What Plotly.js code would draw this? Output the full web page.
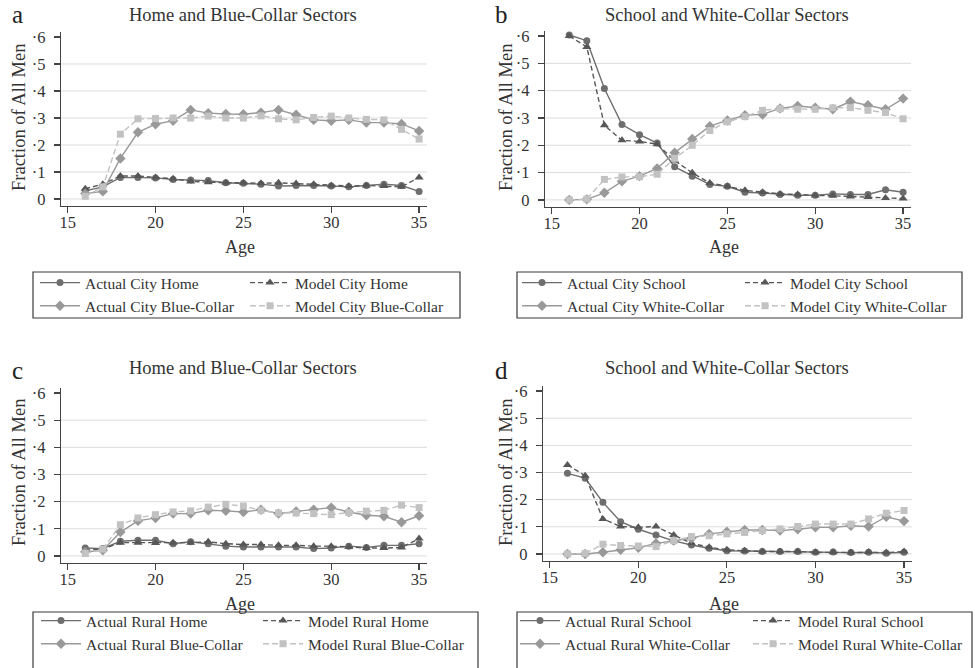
<!DOCTYPE html>
<html><head><meta charset="utf-8">
<script src="https://cdn.plot.ly/plotly-3.0.1.min.js"></script>
<style>html,body{margin:0;padding:0;background:#fff}#chart{width:975px;height:668px}</style>
</head><body><div id="chart"></div>
<script>
const ages = [16,17,18,19,20,21,22,23,24,25,26,27,28,29,30,31,32,33,34,35];

const cityHomeActual  = [0.030,0.045,0.080,0.080,0.078,0.072,0.070,0.068,0.060,0.058,0.055,0.048,0.050,0.050,0.048,0.045,0.050,0.055,0.050,0.028];
const cityHomeModel   = [0.038,0.055,0.085,0.085,0.080,0.075,0.065,0.062,0.060,0.060,0.058,0.060,0.057,0.055,0.050,0.048,0.050,0.048,0.045,0.080];
const cityBlueActual  = [0.020,0.028,0.150,0.247,0.277,0.290,0.330,0.318,0.315,0.314,0.320,0.330,0.312,0.293,0.290,0.293,0.283,0.283,0.278,0.252];
const cityBlueModel   = [0.010,0.045,0.240,0.297,0.298,0.300,0.300,0.307,0.300,0.300,0.308,0.297,0.293,0.302,0.307,0.300,0.295,0.293,0.258,0.222];

const citySchoolActual = [0.604,0.583,0.408,0.276,0.239,0.208,0.121,0.087,0.056,0.050,0.028,0.025,0.020,0.017,0.017,0.022,0.020,0.020,0.037,0.028];
const citySchoolModel  = [0.600,0.560,0.273,0.218,0.214,0.204,0.144,0.099,0.062,0.050,0.035,0.028,0.022,0.020,0.016,0.015,0.012,0.011,0.007,0.005];
const cityWhiteActual  = [0.000,0.002,0.026,0.068,0.087,0.115,0.173,0.223,0.270,0.291,0.310,0.313,0.335,0.344,0.338,0.332,0.360,0.347,0.332,0.371];
const cityWhiteModel   = [0.000,0.003,0.075,0.084,0.085,0.094,0.152,0.200,0.254,0.286,0.305,0.328,0.334,0.332,0.332,0.337,0.338,0.328,0.320,0.297];

const ruralHomeActual = [0.029,0.027,0.054,0.058,0.058,0.045,0.052,0.045,0.036,0.033,0.033,0.033,0.033,0.027,0.029,0.036,0.031,0.039,0.039,0.045];
const ruralHomeModel  = [0.021,0.026,0.049,0.049,0.048,0.049,0.049,0.052,0.045,0.042,0.042,0.039,0.039,0.036,0.036,0.033,0.029,0.029,0.031,0.064];
const ruralBlueActual = [0.015,0.021,0.088,0.129,0.140,0.156,0.156,0.168,0.166,0.162,0.170,0.156,0.164,0.170,0.178,0.162,0.150,0.146,0.124,0.148];
const ruralBlueModel  = [0.009,0.025,0.115,0.140,0.152,0.162,0.166,0.180,0.190,0.184,0.168,0.158,0.158,0.156,0.152,0.160,0.165,0.168,0.187,0.178];

const ruralSchoolActual = [0.297,0.279,0.190,0.119,0.091,0.070,0.048,0.033,0.021,0.012,0.011,0.009,0.009,0.009,0.006,0.007,0.005,0.006,0.003,0.006];
const ruralSchoolModel  = [0.328,0.288,0.129,0.101,0.098,0.101,0.070,0.039,0.025,0.015,0.012,0.009,0.009,0.009,0.006,0.006,0.005,0.007,0.005,0.009];
const ruralWhiteActual  = [0.000,0.000,0.006,0.015,0.023,0.039,0.049,0.058,0.074,0.082,0.088,0.088,0.086,0.091,0.098,0.098,0.104,0.101,0.137,0.121];
const ruralWhiteModel   = [0.000,0.002,0.036,0.031,0.029,0.027,0.049,0.064,0.067,0.074,0.079,0.086,0.092,0.101,0.110,0.110,0.110,0.129,0.150,0.160];

const panelLetters = ['a','b','c','d'];
const panelTitles = ['Home and Blue-Collar Sectors','School and White-Collar Sectors','Home and Blue-Collar Sectors','School and White-Collar Sectors'];
const yTitle = 'Fraction of All Men';
const xTitle = 'Age';
const xTickVals = [15,20,25,30,35];
const yTickVals = [0,0.1,0.2,0.3,0.4,0.5,0.6];
const yTickText = ['0','\u00b71','\u00b72','\u00b73','\u00b74','\u00b75','\u00b76'];
const gridVals = [0,0.1,0.2,0.3,0.4,0.5];

const seriesNames = [
  ['Actual City Home','Model City Home','Actual City Blue-Collar','Model City Blue-Collar'],
  ['Actual City School','Model City School','Actual City White-Collar','Model City White-Collar'],
  ['Actual Rural Home','Model Rural Home','Actual Rural Blue-Collar','Model Rural Blue-Collar'],
  ['Actual Rural School','Model Rural School','Actual Rural White-Collar','Model Rural White-Collar']
];
const seriesValues = [
  [cityHomeActual, cityHomeModel, cityBlueActual, cityBlueModel],
  [citySchoolActual, citySchoolModel, cityWhiteActual, cityWhiteModel],
  [ruralHomeActual, ruralHomeModel, ruralBlueActual, ruralBlueModel],
  [ruralSchoolActual, ruralSchoolModel, ruralWhiteActual, ruralWhiteModel]
];

const W = 975, H = 668;
const FONT = 'Liberation Serif, Times New Roman, DejaVu Serif, serif';
const TXT = '#333333';
const px = v => v / W;
const py = v => 1 - v / H;

const styles = [
  {color:'#6e6e6e', dash:'solid',   symbol:'circle',      size:7},
  {color:'#575757', dash:'5px,3px', symbol:'triangle-up', size:8},
  {color:'#999999', dash:'solid',   symbol:'diamond',     size:8},
  {color:'#c2c2c2', dash:'6px,3px', symbol:'square',      size:7}
];

// panel geometry (px)
const panels = [
  {x0:61,  x1:427, yt:32,  yb:206, titleX:243, titleY:15,  letterX:17,  letterY:14,  yTitX:19,  yTitY:118, ageY:247,
   legX:[35,245], legY:266, box:[33,460,272,318]},
  {x0:545, x1:911, yt:31,  yb:207, titleX:727, titleY:15,  letterX:501, letterY:14,  yTitX:506, yTitY:118, ageY:247,
   legX:[517,740], legY:266, box:[517,962,272,318]},
  {x0:61,  x1:427, yt:388, yb:563, titleX:243, titleY:368, letterX:17,  letterY:370, yTitX:19,  yTitY:473, ageY:604,
   legX:[36,258], legY:604, box:[33,478,612,672]},
  {x0:543, x1:912, yt:386, yb:561, titleX:727, titleY:368, letterX:501, letterY:370, yTitX:506, yTitY:473, ageY:604,
   legX:[515,748], legY:604, box:[517,972,612,672]}
];

const traces = [];
const layout = {
  width: W, height: H,
  margin: {l:0, r:0, t:0, b:0},
  paper_bgcolor: '#ffffff', plot_bgcolor: '#ffffff',
  font: {family: FONT, color: TXT},
  showlegend: true,
  annotations: [], shapes: []
};

panels.forEach((p, i) => {
  const n = i + 1;
  const xa = 'xaxis' + (n === 1 ? '' : n);
  const ya = 'yaxis' + (n === 1 ? '' : n);
  const xr = 'x' + (n === 1 ? '' : n);
  const yr = 'y' + (n === 1 ? '' : n);
  layout[xa] = {
    domain: [px(p.x0), px(p.x1)], anchor: yr,
    range: [14.62, 35.45], tickvals: xTickVals, ticktext: xTickVals.map(String),
    showgrid: false, zeroline: false, showline: true, linecolor: '#444', linewidth: 1.3,
    ticks: 'outside', ticklen: 6, tickwidth: 1.2, tickcolor: '#444', ticklabelstandoff: -5,
    tickfont: {family: FONT, size: 16.5, color: TXT}, fixedrange: true
  };
  layout[ya] = {
    domain: [py(p.yb), py(p.yt)], anchor: xr,
    range: [-0.026, 0.6185], tickvals: yTickVals, ticktext: yTickText,
    showgrid: false, zeroline: false, showline: true, linecolor: '#444', linewidth: 1.3,
    ticks: 'outside', ticklen: 6, tickwidth: 1.2, tickcolor: '#444', ticklabelstandoff: 5,
    tickfont: {family: FONT, size: 16.5, color: TXT}, fixedrange: true
  };
  gridVals.forEach(g => {
    layout.shapes.push({type:'line', xref: xr + ' domain', yref: yr, x0:0, x1:1, y0:g, y1:g,
      line:{color:'#dcdcdc', width:1}, layer:'below'});
  });
  // legend border
  layout.shapes.push({type:'rect', xref:'paper', yref:'paper',
    x0:px(p.box[0]), x1:px(p.box[1]), y0:py(p.box[3]), y1:py(p.box[2]),
    line:{color:'#3a3a3a', width:1.2}, fillcolor:'rgba(0,0,0,0)'});

  const legKeys = ['legend' + (2*i === 0 ? '' : (2*i + 1)), 'legend' + (2*i + 2)];
  legKeys.forEach((k, j) => {
    layout[k] = {
      x: px(p.legX[j]), y: py(p.legY), xanchor:'left', yanchor:'top',
      orientation:'v', bgcolor:'rgba(0,0,0,0)', borderwidth:0,
      font:{family: FONT, size: 15.5, color: TXT}, itemwidth: 40, tracegroupgap: 0,
      itemclick: false, itemdoubleclick: false
    };
  });

  seriesValues[i].forEach((vals, s) => {
    const st = styles[s];
    traces.push({
      type:'scatter', mode:'lines+markers', x: ages, y: vals,
      name: seriesNames[i][s], xaxis: xr, yaxis: yr,
      legend: legKeys[s % 2],
      line:{color: st.color, dash: st.dash, width: 1.4},
      marker:{symbol: st.symbol, size: st.size, color: st.color},
      hoverinfo:'skip'
    });
  });

  layout.annotations.push(
    {text: panelTitles[i], xref:'paper', yref:'paper', x: px(p.titleX), y: py(p.titleY),
     xanchor:'center', yanchor:'middle', showarrow:false, font:{family: FONT, size: 18.5, color: TXT}},
    {text: panelLetters[i], xref:'paper', yref:'paper', x: px(p.letterX), y: py(p.letterY),
     xanchor:'center', yanchor:'middle', showarrow:false, font:{family: FONT, size: 25, color: '#222'}},
    {text: yTitle, xref:'paper', yref:'paper', x: px(p.yTitX), y: py(p.yTitY), textangle:-90,
     xanchor:'center', yanchor:'middle', showarrow:false, font:{family: FONT, size: 18.5, color: TXT}},
    {text: xTitle, xref:'paper', yref:'paper', x: px((p.x0 + p.x1) / 2 - 4), y: py(p.ageY),
     xanchor:'center', yanchor:'middle', showarrow:false, font:{family: FONT, size: 18, color: TXT}}
  );
});

Plotly.newPlot('chart', traces, layout, {staticPlot: true, displayModeBar: false});
</script>
</body></html>
